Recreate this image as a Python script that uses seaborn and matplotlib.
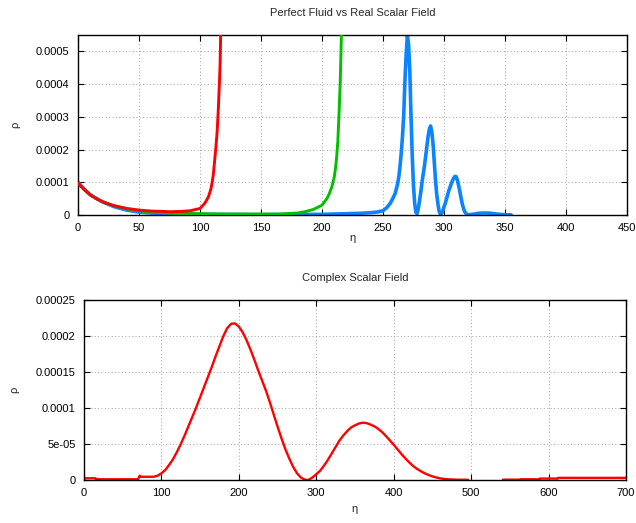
import numpy as np
import pandas as pd
import matplotlib
matplotlib.use("Agg")
import matplotlib.pyplot as plt
import seaborn as sns

# ---------------- data ----------------
# Top panel: Perfect Fluid vs Real Scalar Field (rho values in units of 1e-6)
fluid1_eta = [0, 5, 10, 15, 20, 25, 30, 40, 50, 60, 70, 75, 85, 92, 100, 104, 107, 109,
              110, 111, 112, 113, 114, 115, 116, 116.5, 117]
fluid1_rho = [97, 78, 62, 50, 41, 34, 28, 20, 15, 12, 11, 10, 11, 13, 20, 36, 56, 80,
              100, 125, 165, 205, 250, 320, 410, 460, 560]

fluid2_eta = [0, 5, 10, 15, 20, 25, 30, 40, 50, 60, 70, 80, 100, 120, 150, 165, 180, 186,
              193, 200, 204, 206, 208, 210, 211, 212, 213, 214, 215, 216]
fluid2_rho = [97, 78, 62, 50, 41, 34, 28, 19, 13, 9, 7, 5, 4, 3, 3, 3, 6, 10, 17, 30,
              50, 65, 85, 115, 140, 175, 225, 310, 410, 560]

scalar_eta = [0, 5, 10, 20, 30, 40, 50, 60, 80, 100, 150, 200, 230, 240, 245, 250, 253,
              256, 258, 260, 262, 263, 264, 265, 266, 267, 268, 269, 270, 271, 272, 273,
              274, 275, 276, 277, 278, 279, 280, 281, 282, 283, 284, 285, 286, 287, 288,
              289, 290, 291, 292, 293, 294, 295, 296, 297, 298, 299, 300, 301, 302, 303,
              304, 305, 306, 307, 308, 309, 310, 311, 312, 313, 314, 315, 316, 317, 318,
              319, 320, 322, 325, 328, 331, 335, 338, 341, 344, 347, 350, 355]
scalar_rho = [100, 80, 62, 40, 25, 15, 9, 6, 3, 2, 1, 2, 5, 7, 9, 13, 22, 36, 50, 66,
              95, 117, 150, 190, 240, 305, 410, 490, 550, 520, 440, 300, 180, 90, 35, 8,
              5, 20, 45, 70, 100, 125, 150, 180, 210, 240, 262, 272, 255, 220, 165, 110,
              65, 35, 12, 3, 5, 12, 25, 35, 48, 62, 75, 85, 96, 105, 113, 118, 117, 106,
              90, 72, 52, 34, 20, 10, 5, 2, 1, 1.5, 3, 5, 6, 6, 5.5, 4, 2.5, 1.5, 1, 0.5]

# Bottom panel: Complex Scalar Field (rho in units of 1e-6; two segments with a gap)
complex_eta_a = [0, 15, 15.5, 70, 71, 72, 73, 90, 95, 100, 105, 110, 115, 120, 125, 130,
                 135, 140, 145, 150, 155, 160, 165, 170, 175, 180, 185, 190, 195, 200,
                 205, 210, 215, 220, 225, 230, 235, 240, 245, 250, 255, 260, 265, 270,
                 275, 280, 285, 288, 291, 295, 300, 305, 310, 315, 320, 325, 330, 335,
                 340, 345, 350, 355, 360, 365, 370, 375, 380, 385, 390, 395, 400, 405,
                 410, 415, 420, 425, 430, 435, 440, 445, 450, 455, 460, 465, 470, 480, 496]
complex_rho_a = [2.4, 2.4, 1.0, 1.0, 4.5, 6.0, 4.5, 4.5, 6, 9.3, 14, 21, 29, 39, 50, 62,
                 75, 88, 101, 115, 129, 143, 157, 172, 186, 200, 211, 217, 217.5, 213,
                 205, 194, 181, 167, 152, 138, 124, 108, 91, 74, 58, 43, 30, 18.5,
                 9.5, 3.5, 0.5, 0, 0.8, 3.5, 8, 13, 20, 28, 37, 46, 55, 62, 68, 73, 76,
                 78.5, 79.6, 79, 77, 74.5, 71, 66.5, 61, 55, 49, 42.5, 36, 30, 24.5, 19.5,
                 15.5, 12.2, 9.3, 7, 5, 3.5, 2.3, 1.5, 1.0, 0.5, 0.3]
complex_eta_b = [541, 563, 563.5, 588, 588.5, 612, 612.5, 700]
complex_rho_b = [0.5, 0.5, 1.0, 1.0, 2.0, 2.0, 3.0, 3.0]

top_xticks = [0, 50, 100, 150, 200, 250, 300, 350, 400, 450]
top_yticks = [0, 0.0001, 0.0002, 0.0003, 0.0004, 0.0005]
top_ylabels = ["0", "0.0001", "0.0002", "0.0003", "0.0004", "0.0005"]
bot_xticks = [0, 100, 200, 300, 400, 500, 600, 700]
bot_yticks = [0, 0.00005, 0.0001, 0.00015, 0.0002, 0.00025]
bot_ylabels = ["0", "5e-05", "0.0001", "0.00015", "0.0002", "0.00025"]

SCALE = 1e-6

# ---------------- style ----------------
sns.set_style("ticks")
plt.rcParams["font.family"] = ["Liberation Sans", "DejaVu Sans"]
plt.rcParams["font.size"] = 8

fig = plt.figure(figsize=(6.36, 5.23), dpi=100)
ax1 = fig.add_axes([0.1226, 0.5889, 0.8632, 0.3442])
ax2 = fig.add_axes([0.1321, 0.0822, 0.8522, 0.3442])

top_df = pd.concat([
    pd.DataFrame({"eta": fluid1_eta, "rho": np.array(fluid1_rho) * SCALE, "series": "fluid1"}),
    pd.DataFrame({"eta": fluid2_eta, "rho": np.array(fluid2_rho) * SCALE, "series": "fluid2"}),
    pd.DataFrame({"eta": scalar_eta, "rho": np.array(scalar_rho) * SCALE, "series": "scalar"}),
], ignore_index=True)

colors = {"fluid1": "#ff0000", "fluid2": "#00c000", "scalar": "#0a84ff"}
widths = {"fluid1": 2.1, "fluid2": 2.1, "scalar": 2.6}
zorders = {"fluid1": 4, "fluid2": 3, "scalar": 2}
for name in ["scalar", "fluid2", "fluid1"]:
    sub = top_df[top_df["series"] == name]
    sns.lineplot(data=sub, x="eta", y="rho", color=colors[name], lw=widths[name],
                 ax=ax1, estimator=None, sort=False, legend=False, zorder=zorders[name])

bot_df = pd.concat([
    pd.DataFrame({"eta": complex_eta_a, "rho": np.array(complex_rho_a) * SCALE, "seg": 0}),
    pd.DataFrame({"eta": complex_eta_b, "rho": np.array(complex_rho_b) * SCALE, "seg": 1}),
], ignore_index=True)
sns.lineplot(data=bot_df, x="eta", y="rho", units="seg", estimator=None, sort=False,
             color="#ff0000", lw=1.7, ax=ax2, legend=False)


def style(ax, xticks, yticks, ylabels, xmax, ymax, title, xpad, ypad):
    ax.set_xlim(0, xmax)
    ax.set_ylim(0, ymax)
    ax.set_xticks(xticks)
    ax.set_xticklabels([str(t) for t in xticks])
    ax.set_yticks(yticks)
    ax.set_yticklabels(ylabels)
    ax.tick_params(direction="in", length=4, width=0.8, top=True, right=True,
                   labelsize=8, colors="black", pad=6)
    ax.grid(True, color="#a0a0a0", linestyle=(0, (1, 2.5)), linewidth=0.7)
    for s in ax.spines.values():
        s.set_visible(True)
        s.set_color("black")
        s.set_linewidth(1.0)
    ax.set_title(title, fontsize=8, pad=14)
    ax.set_xlabel("η", fontsize=8, labelpad=xpad)
    ax.set_ylabel("ρ", fontsize=8, labelpad=ypad)


style(ax1, top_xticks, top_yticks, top_ylabels, 450, 0.00055,
      "Perfect Fluid vs Real Scalar Field", 0, 11)
style(ax2, bot_xticks, bot_yticks, bot_ylabels, 700, 0.00025,
      "Complex Scalar Field", 4, 12)

fig.savefig("out.png", dpi=100)
